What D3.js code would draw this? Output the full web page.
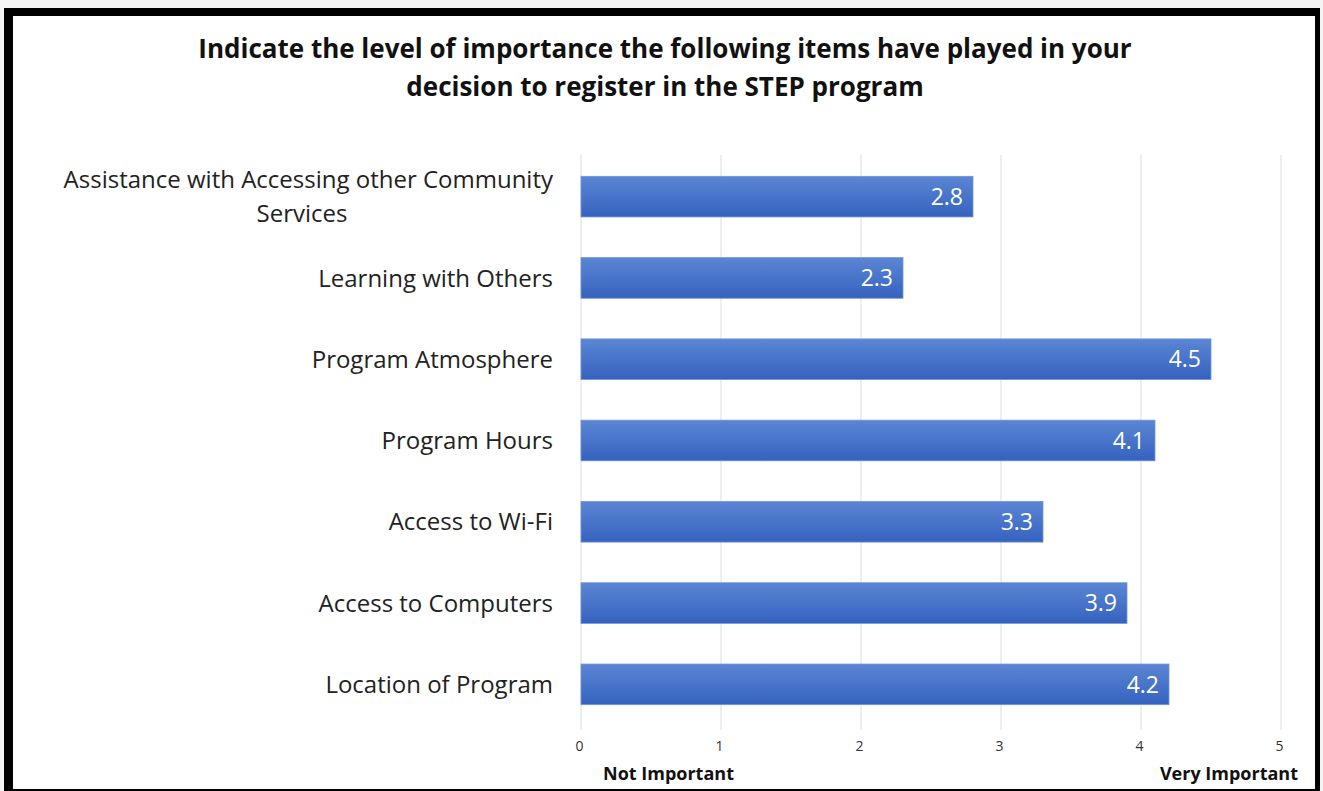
<!DOCTYPE html>
<html>
<head>
<meta charset="utf-8">
<script src="https://cdn.jsdelivr.net/npm/d3@7"></script>
<style>
  body { margin: 0; background: #fff; }
  svg { display: block; }
</style>
</head>
<body>
<div id="chart"></div>
<script>
// chart data
var categories = [
    "Assistance with Accessing other Community|Services",
    "Learning with Others",
    "Program Atmosphere",
    "Program Hours",
    "Access to Wi-Fi",
    "Access to Computers",
    "Location of Program"
];
var scores = [2.8, 2.3, 4.5, 4.1, 3.3, 3.9, 4.2];
var tickValues = [0, 1, 2, 3, 4, 5];
var titleLines = [
    "Indicate the level of importance the following items have played in your",
    "decision to register in the STEP program"
];
var endLabels = ["Not Important", "Very Important"];

var width = 1323, height = 791;
var font = "'Open Sans', sans-serif";

var svg = d3.select("#chart").append("svg")
    .attr("width", width)
    .attr("height", height);

// gradient for the bars
var defs = svg.append("defs");
var grad = defs.append("linearGradient")
    .attr("id", "barGrad")
    .attr("x1", 0).attr("y1", 0).attr("x2", 0).attr("y2", 1);
grad.append("stop").attr("offset", "0%").attr("stop-color", "#5b86d4");
grad.append("stop").attr("offset", "100%").attr("stop-color", "#3562bf");

// black frame
svg.append("rect")
    .attr("x", 0).attr("y", 0)
    .attr("width", width).attr("height", height)
    .attr("fill", "#f4f4f4");
svg.append("path")
    .attr("d", "M4,8 H1320 V791 H4 Z")
    .attr("fill", "#000");
svg.append("rect")
    .attr("x", 13).attr("y", 16)
    .attr("width", 1302).attr("height", 773)
    .attr("fill", "#fff");

// title
svg.append("g").selectAll("text")
    .data(titleLines)
    .enter().append("text")
    .attr("x", 665)
    .attr("y", function(d, i) { return 58 + i * 38; })
    .attr("text-anchor", "middle")
    .style("font-family", font)
    .style("font-size", "26px")
    .style("font-weight", "bold")
    .style("fill", "#111")
    .text(function(d) { return d; });

var x = d3.scaleLinear().domain([0, 5]).range([581, 1281]);
var y = d3.scaleBand()
    .domain(categories)
    .range([156, 725])
    .paddingInner(0.5)
    .paddingOuter(0.25);

// gridlines
svg.append("g").selectAll("line")
    .data(tickValues)
    .enter().append("line")
    .attr("x1", function(d) { return x(d); })
    .attr("x2", function(d) { return x(d); })
    .attr("y1", 155)
    .attr("y2", 730)
    .attr("stroke", "#e3e3e3")
    .attr("stroke-width", 1.2);

// x axis tick labels
var xAxis = d3.axisBottom(x).tickValues(tickValues).tickFormat(d3.format("d"))
    .tickSize(0).tickPadding(0);
var axisG = svg.append("g")
    .attr("transform", "translate(-2,741)")
    .call(xAxis);
axisG.select(".domain").remove();
axisG.selectAll("text")
    .style("font-family", font)
    .style("font-size", "14px")
    .style("fill", "#333");

// bars
svg.append("g").selectAll("rect")
    .data(scores)
    .enter().append("rect")
    .attr("x", x(0))
    .attr("y", function(d, i) { return y(categories[i]); })
    .attr("width", function(d) { return x(d) - x(0); })
    .attr("height", y.bandwidth())
    .attr("fill", "url(#barGrad)")
    .attr("stroke", "#6f95da")
    .attr("stroke-width", 0.8);

// value labels
svg.append("g").selectAll("text")
    .data(scores)
    .enter().append("text")
    .attr("x", function(d) { return x(d) - 10; })
    .attr("y", function(d, i) { return y(categories[i]) + y.bandwidth() / 2; })
    .attr("dy", "0.36em")
    .attr("text-anchor", "end")
    .style("font-family", font)
    .style("font-size", "23px")
    .style("fill", "#fff")
    .text(function(d) { return d.toFixed(1); });

// category labels (may wrap to two lines)
var catG = svg.append("g").selectAll("text")
    .data(categories)
    .enter().append("text")
    .attr("text-anchor", "end")
    .style("font-family", font)
    .style("font-size", "24px")
    .style("fill", "#222");
catG.each(function(d) {
    var parts = d.split("|");
    var cy = y(d) + y.bandwidth() / 2;
    var t = d3.select(this);
    parts.forEach(function(p, k) {
        t.append("tspan")
            .attr("y", cy + (k - (parts.length - 1) / 2) * 34)
            .attr("dy", "0.36em")
            .attr("text-anchor", k === 0 ? "end" : "middle")
            .attr("x", k === 0 ? 553 : 302)
            .text(p);
    });
});

// end labels
svg.append("text")
    .attr("x", 603).attr("y", 780)
    .style("font-family", font)
    .style("font-size", "18px")
    .style("font-weight", "bold")
    .style("fill", "#111")
    .text(endLabels[0]);
svg.append("text")
    .attr("x", 1298).attr("y", 780)
    .attr("text-anchor", "end")
    .style("font-family", font)
    .style("font-size", "18px")
    .style("font-weight", "bold")
    .style("fill", "#111")
    .text(endLabels[1]);
</script>
</body>
</html>
